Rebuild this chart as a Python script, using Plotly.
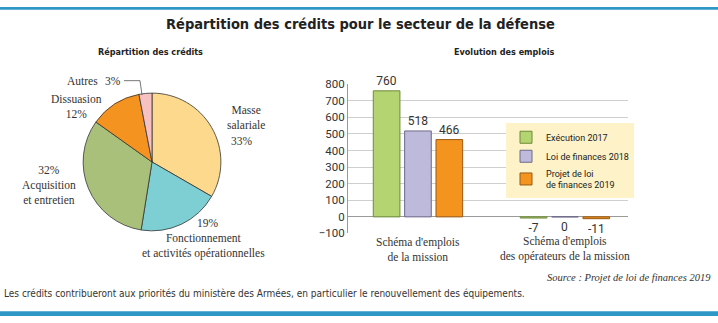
import plotly.graph_objects as go

W, H = 718, 323

# ---- data ----
pie_labels = ["Masse salariale", "Fonctionnement et activités opérationnelles",
              "Acquisition et entretien", "Dissuasion", "Autres"]
pie_values = [33, 19, 32, 12, 3]
pie_colors = ["#fdd98e", "#7dcfd4", "#a9c07a", "#f4931f", "#f7c1c4"]

bar_categories = ["Schéma d'emplois<br>de la mission",
                  "Schéma d'emplois<br>des opérateurs de la mission"]
series_names = ["Exécution 2017", "Loi de finances 2018", "Projet de loi<br>de finances 2019"]
exec_2017 = [760, -7]
lfi_2018 = [518, 0]
plf_2019 = [466, -11]
series_values = [exec_2017, lfi_2018, plf_2019]
bar_colors = ["#b3d470", "#bdbadc", "#f5931f"]
bar_lines = ["#6f8a3a", "#6d6a8c", "#9a5a12"]

SANS_N = "Liberation Sans Narrow, DejaVu Sans Condensed, Roboto, Arial Narrow, sans-serif"
SANS = "Roboto, Liberation Sans, sans-serif"
SERIF = "Liberation Serif, DejaVu Serif, serif"

fig = go.Figure()

# pie
cx, cy, r = 152, 162, 72
fig.add_trace(go.Pie(
    labels=pie_labels, values=pie_values, sort=False, direction="clockwise",
    rotation=0, textinfo="none", hoverinfo="label+percent",
    marker=dict(colors=pie_colors, line=dict(color="#333333", width=0.8)),
    domain=dict(x=[(cx - r) / W, (cx + r) / W], y=[1 - (cy + r) / H, 1 - (cy - r) / H]),
    showlegend=False,
))

# bars
for name, vals, col, lc in zip(series_names, series_values, bar_colors, bar_lines):
    fig.add_trace(go.Bar(
        x=bar_categories, y=vals, name=name,
        marker=dict(color=col, line=dict(color=lc, width=1)),
        text=[str(v) if v != 0 else "" for v in vals], textposition="outside", cliponaxis=False,
        textfont=dict(family=SANS, size=12, color="#333333"),
        xaxis="x", yaxis="y",
    ))

x0, x1 = 348, 628
y_top, y_bot = 80.7, 236.7
fig.update_layout(
    width=W, height=H, margin=dict(l=0, r=0, t=0, b=0),
    paper_bgcolor="white", plot_bgcolor="white",
    barmode="group", bargap=0.36, bargroupgap=0.15,
    xaxis=dict(domain=[x0 / W, x1 / W], range=[-0.476, 1.429], showgrid=False,
               showline=False, ticks="", showticklabels=False, fixedrange=True),
    yaxis=dict(domain=[1 - y_bot / H, 1 - y_top / H], range=[-100, 800], dtick=100,
               showgrid=True, gridcolor="#cfcfcf", gridwidth=1,
               zeroline=True, zerolinecolor="#9a9a9a", zerolinewidth=1,
               showline=True, linecolor="#9a9a9a", linewidth=1, ticks="",
               tickfont=dict(family=SANS, size=11.5, color="#333333"), fixedrange=True),
    legend=dict(x=506 / W, y=1 - 121 / H, xanchor="left", yanchor="top",
                bgcolor="#fdf2c8", borderwidth=0,
                font=dict(family=SANS, size=9, color="#222222"),
                itemwidth=30, tracegroupgap=0, traceorder="normal"),
    showlegend=True,
)

anns = []
def ann(text, x, y, size=11.5, family=SERIF, color="#333333", xanchor="center", xref="paper", yref="paper", **kw):
    ax = x / W if xref == "paper" else x
    ay = 1 - y / H if yref == "paper" else y
    d = dict(text=text, x=ax, y=ay, xref=xref, yref=yref, showarrow=False,
             xanchor=xanchor, yanchor="middle", borderpad=0,
             font=dict(family=family, size=size, color=color, **kw))
    anns.append(d)
    return d

ann("<b>Répartition des crédits pour le secteur de la défense</b>", 360, 18, size=14.5, family=SANS_N, color="#222222")
ann("<b>Répartition des crédits</b>", 150, 47, size=9, family=SANS_N, color="#222222")
ann("<b>Evolution des emplois</b>", 504, 47, size=9, family=SANS_N, color="#222222")

ann("Masse<br>salariale", 246, 116)
ann("33%", 242, 140)
ann("19%", 208, 226)
ann("Fonctionnement<br>et activités opérationnelles", 203, 250)
ann("32%<br>Acquisition<br>et entretien", 49, 186)
ann("Dissuasion<br>12%", 76, 104)
ann("Autres", 82, 77)
ann("3%", 113, 77)

# category labels under the bar groups
for cat in bar_categories:
    ann(cat, cat, 253, size=11.5, xref="x")

# zero-valued bar labels placed below the baseline (middle series sits on category centre)
n_series = len(series_values)
slot_px = (x1 - x0) / (1.429 + 0.476) * (1 - 0.36) / n_series
for si, vals in enumerate(series_values):
    for ci, v in enumerate(vals):
        if v == 0:
            d = ann(str(v), bar_categories[ci], v, size=12, family=SANS, xref="x", yref="y")
            d["yshift"] = -10
            d["xshift"] = (si - (n_series - 1) / 2) * slot_px

ann("Source : Projet de loi de finances 2019", 712, 283, size=10.5, xanchor="right", style="italic")
ann("Les crédits contribueront aux priorités du ministère des Armées, en particulier le renouvellement des équipements.",
    3, 300, size=10, family=SANS_N, xanchor="left", color="#333333")

fig.update_layout(annotations=anns)

shapes = [
    dict(type="rect", xref="paper", yref="paper", x0=0, x1=1, y0=1 - 3 / H, y1=1,
         fillcolor="#2f97c5", line=dict(width=0)),
    dict(type="rect", xref="paper", yref="paper", x0=0, x1=1, y0=0, y1=5 / H,
         fillcolor="#2f97c5", line=dict(width=0)),
    dict(type="path", xref="paper", yref="paper",
         path="M {} {} L {} {} L {} {}".format(124 / W, 1 - 77 / H, 140 / W, 1 - 77 / H, 142 / W, 1 - 92 / H),
         line=dict(color="#555555", width=0.8)),
]
fig.update_layout(shapes=shapes)

fig.write_html("out.html")
